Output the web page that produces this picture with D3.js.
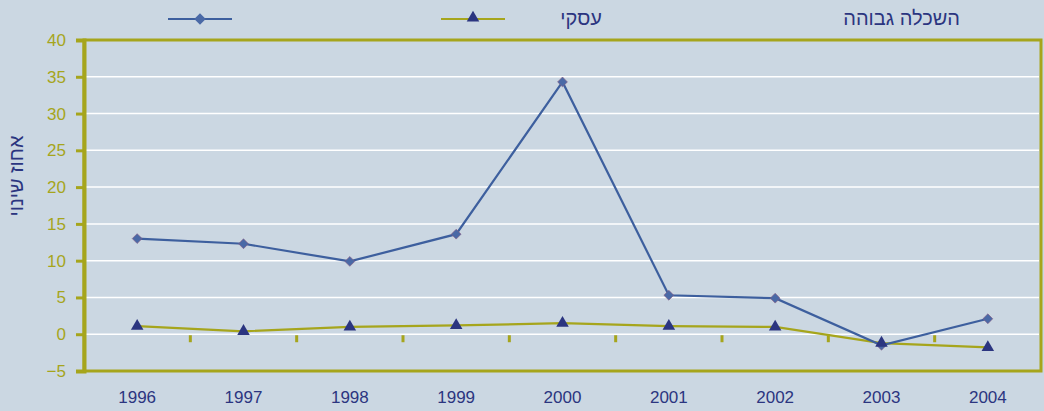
<!DOCTYPE html>
<html>
<head>
<meta charset="utf-8">
<script src="https://cdn.jsdelivr.net/npm/d3@7"></script>
<style>
  body { margin: 0; background: #cbd7e2; }
  text { font-family: "Liberation Sans", Arial, sans-serif; }
</style>
</head>
<body>
<div id="chart"></div>
<script>
// Data
const years = ["1996", "1997", "1998", "1999", "2000", "2001", "2002", "2003", "2004"];
const higherEd = [13.0, 12.3, 9.9, 13.6, 34.3, 5.3, 4.9, -1.5, 2.1];
const business = [1.1, 0.4, 1.0, 1.2, 1.5, 1.1, 1.0, -1.2, -1.8];
const yTicks = [-5, 0, 5, 10, 15, 20, 25, 30, 35, 40];
const seriesNames = ["השכלה גבוהה", "עסקי"];

let width = 1044,
    height = 411;

const olive = "#a6a51c",
      navy = "#2b3580",
      blue = "#3d5f9e";

let svg = d3.select("#chart")
    .append("svg")
        .attr("width", width)
        .attr("height", height);

svg.append("rect")
    .attr("width", width)
    .attr("height", height)
    .attr("fill", "#cbd7e2");

let x = d3.scaleBand()
    .domain(years)
    .range([84, 1041]);

let y = d3.scaleLinear()
    .domain([-5, 40])
    .range([371, 40]);

// Gridlines
svg.selectAll(".grid")
    .data(yTicks.filter(d => d > -5 && d < 40))
    .join("line")
        .attr("x1", 86)
        .attr("x2", 1039)
        .attr("y1", d => y(d))
        .attr("y2", d => y(d))
        .attr("stroke", "#fff")
        .attr("stroke-width", 1.5);

// Category ticks on zero line
svg.selectAll(".xtick")
    .data(years.slice(1))
    .join("line")
        .attr("x1", d => x(d))
        .attr("x2", d => x(d))
        .attr("y1", y(0) + 1)
        .attr("y2", y(0) + 8)
        .attr("stroke", olive)
        .attr("stroke-width", 3);

// Frame
svg.append("rect")
    .attr("x", 84)
    .attr("y", y(40))
    .attr("width", 957)
    .attr("height", y(-5) - y(40))
    .attr("fill", "none")
    .attr("stroke", olive)
    .attr("stroke-width", 3);

// Left axis
let yAxis = svg.append("g")
    .attr("transform", "translate(84,0)")
    .call(d3.axisLeft(y).tickValues(yTicks).tickSize(8).tickPadding(10));
yAxis.select(".domain").attr("stroke", olive).attr("stroke-width", 4);
yAxis.selectAll(".tick line").attr("stroke", olive).attr("stroke-width", 3);
yAxis.selectAll(".tick text")
    .attr("fill", olive)
    .attr("font-size", 17)
    .attr("font-family", "Liberation Sans, Arial, sans-serif");

// Bottom labels
let xAxis = svg.append("g")
    .attr("transform", `translate(0,${y(-5)})`)
    .call(d3.axisBottom(x).tickSize(0).tickPadding(20));
xAxis.select(".domain").remove();
xAxis.selectAll(".tick text")
    .attr("fill", navy)
    .attr("font-size", 17)
    .attr("font-family", "Liberation Sans, Arial, sans-serif");

// Y title
svg.append("text")
    .attr("transform", "translate(23,176) rotate(-90)")
    .attr("text-anchor", "middle")
    .attr("fill", navy)
    .attr("font-size", 20)
    .text("אחוז שינוי");

// Lines
let cx = d => x(d) + x.bandwidth() / 2;
let line = d3.line()
    .x((d, i) => cx(years[i]))
    .y(d => y(d));

svg.append("path")
    .datum(business)
    .attr("d", line)
    .attr("fill", "none")
    .attr("stroke", olive)
    .attr("stroke-width", 2.2);

svg.append("path")
    .datum(higherEd)
    .attr("d", line)
    .attr("fill", "none")
    .attr("stroke", blue)
    .attr("stroke-width", 2.2);

let diamond = d3.symbol().type(d3.symbolDiamond2).size(62);
let bigDiamond = d3.symbol().type(d3.symbolDiamond2).size(85);
let triangle = d3.symbol().type(d3.symbolTriangle).size(68);

svg.selectAll(".dia")
    .data(higherEd)
    .join("path")
        .attr("d", diamond)
        .attr("transform", (d, i) => `translate(${cx(years[i])},${y(d)})`)
        .attr("fill", "#4a69a6")
        .attr("stroke", "#8a5a80")
        .attr("stroke-width", 0.6);

svg.selectAll(".tri")
    .data(business)
    .join("path")
        .attr("d", triangle)
        .attr("transform", (d, i) => `translate(${cx(years[i])},${y(d)})`)
        .attr("fill", navy);

// Legend
let legend = svg.append("g");
legend.append("line")
    .attr("x1", 168).attr("x2", 232).attr("y1", 19).attr("y2", 19)
    .attr("stroke", blue).attr("stroke-width", 2.2);
legend.append("path")
    .attr("d", bigDiamond)
    .attr("transform", "translate(200,19)")
    .attr("fill", "#4a69a6");
legend.append("line")
    .attr("x1", 441).attr("x2", 505).attr("y1", 19).attr("y2", 19)
    .attr("stroke", olive).attr("stroke-width", 2.2);
legend.append("path")
    .attr("d", triangle)
    .attr("transform", "translate(473,18)")
    .attr("fill", navy);
legend.append("text")
    .attr("x", 602).attr("y", 25)
    .attr("text-anchor", "end")
    .attr("fill", navy)
    .attr("font-size", 20)
    .text(seriesNames[1]);
legend.append("text")
    .attr("x", 960).attr("y", 25)
    .attr("text-anchor", "end")
    .attr("fill", navy)
    .attr("font-size", 20)
    .text(seriesNames[0]);
</script>
</body>
</html>
